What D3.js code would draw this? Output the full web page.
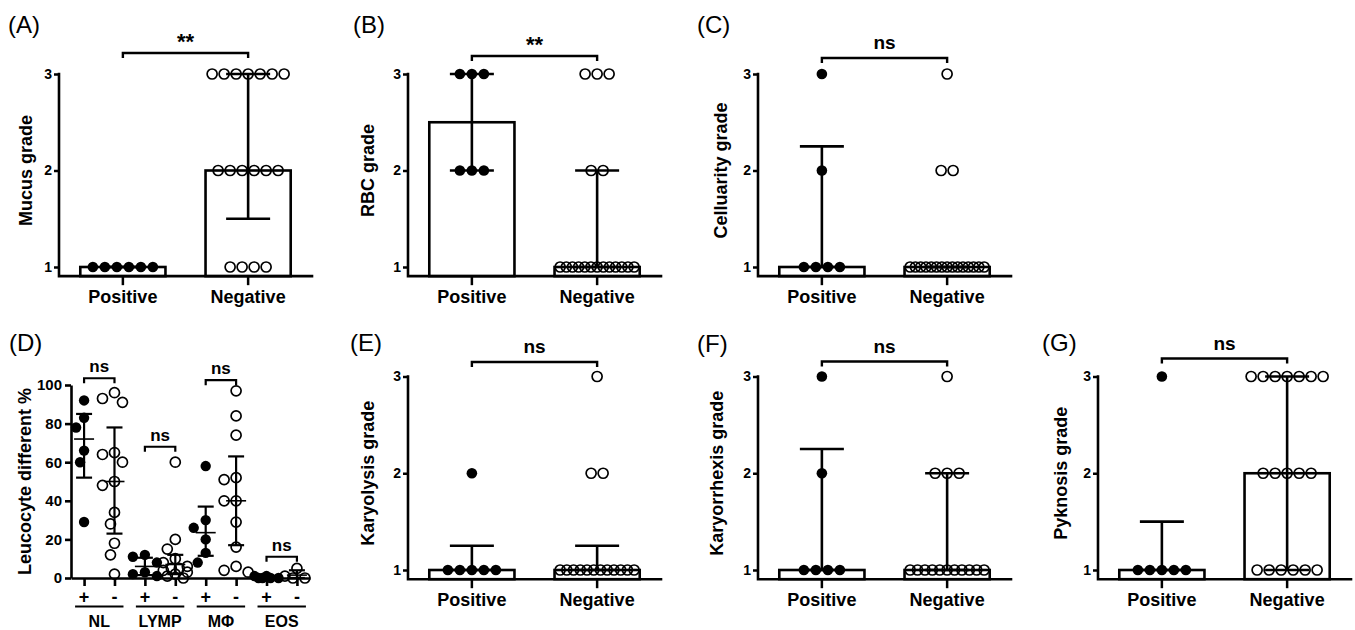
<!DOCTYPE html>
<html>
<head>
<meta charset="utf-8">
<script src="https://cdn.jsdelivr.net/npm/d3@7"></script>
<style>
body { margin: 0; background: #fff; }
text { font-family: "Liberation Sans", Arial, sans-serif; }
</style>
</head>
<body>
<script>
// grade scores per sample
var groups = ['Positive', 'Negative'];
var gradeTicks = [1, 2, 3];

var mucusPos = [1, 1, 1, 1, 1, 1];
var mucusNeg = [3, 3, 3, 3, 3, 3, 3, 2, 2, 2, 2, 2, 2, 1, 1, 1, 1];
var mucusMedian = [1, 2], mucusLow = [1, 1.5], mucusHigh = [1, 3];

var rbcPos = [3, 3, 3, 2, 2, 2];
var rbcNeg = [3, 3, 3, 2, 2, 1, 1, 1, 1, 1, 1, 1, 1, 1, 1, 1, 1, 1];
var rbcMedian = [2.5, 1], rbcLow = [2, 1], rbcHigh = [3, 2];

var cellPos = [3, 2, 1, 1, 1, 1];
var cellNeg = [3, 2, 2, 1, 1, 1, 1, 1, 1, 1, 1, 1, 1, 1, 1, 1, 1, 1];
var cellMedian = [1, 1], cellLow = [1, 1], cellHigh = [2.25, 1];

var lysisPos = [2, 1, 1, 1, 1, 1];
var lysisNeg = [3, 2, 2, 1, 1, 1, 1, 1, 1, 1, 1, 1, 1, 1, 1];
var lysisMedian = [1, 1], lysisLow = [1, 1], lysisHigh = [1.25, 1.25];

var rhexisPos = [3, 2, 1, 1, 1, 1];
var rhexisNeg = [3, 2, 2, 2, 1, 1, 1, 1, 1, 1, 1, 1, 1, 1, 1];
var rhexisMedian = [1, 1], rhexisLow = [1, 1], rhexisHigh = [2.25, 2];

var pyknoPos = [3, 1, 1, 1, 1, 1];
var pyknoNeg = [3, 3, 3, 3, 3, 3, 3, 2, 2, 2, 2, 2, 1, 1, 1, 1, 1, 1];
var pyknoMedian = [1, 2], pyknoLow = [1, 1], pyknoHigh = [1.5, 3];

// panel D: leucocyte differential %
var cellTypes = ['NL', 'LYMP', 'MΦ', 'EOS'];
var nlPos = [92, 83, 78, 66, 60, 29];
var nlNeg = [96, 93, 91, 65, 64, 60, 50, 48, 34, 28, 18, 12, 2];
var lympPos = [12, 11, 8, 3, 2, 1];
var lympNeg = [60, 20, 15, 10, 8, 6, 5, 5, 4, 3, 2, 1, 0];
var mphPos = [58, 30, 26, 20, 13, 8];
var mphNeg = [97, 84, 74, 52, 51, 40, 40, 29, 16, 6, 4, 3];
var eosPos = [1, 1, 0, 0, 0, 0];
var eosNeg = [5, 1, 0, 0];
var diffMean = [72, 50, 6, 7, 23.5, 40, 0.5, 1.5];
var diffLow = [52, 23, 1.5, 2, 11.5, 17, 0, 0];
var diffHigh = [85, 78, 10.5, 12, 37, 63, 1, 4];
var diffTicks = [0, 20, 40, 60, 80, 100];
var diffBracket = [103.5, 68, 102.5, 11];

var svg = d3.select("body").append("svg").attr("width", 1355).attr("height", 630);

var panels = [
  { label: '(A)', lx: 8, ly: 33, title: 'Mucus grade', x0: 59, row: 0, tOff: 27, sig: '**', bOff: 21,
    pos: mucusPos, neg: mucusNeg, med: mucusMedian, lo: mucusLow, hi: mucusHigh },
  { label: '(B)', lx: 353, ly: 33, title: 'RBC grade', x0: 408, row: 0, tOff: 34, sig: '**', bOff: 18,
    pos: rbcPos, neg: rbcNeg, med: rbcMedian, lo: rbcLow, hi: rbcHigh },
  { label: '(C)', lx: 697, ly: 33, title: 'Celluarity grade', x0: 758, row: 0, tOff: 31, sig: 'ns', bOff: 16,
    pos: cellPos, neg: cellNeg, med: cellMedian, lo: cellLow, hi: cellHigh },
  { label: '(E)', lx: 350, ly: 351, title: 'Karyolysis grade', x0: 408, row: 1, tOff: 34, sig: 'ns', bOff: 14.5,
    pos: lysisPos, neg: lysisNeg, med: lysisMedian, lo: lysisLow, hi: lysisHigh },
  { label: '(F)', lx: 697, ly: 352, title: 'Karyorrhexis grade', x0: 758, row: 1, tOff: 35, sig: 'ns', bOff: 15,
    pos: rhexisPos, neg: rhexisNeg, med: rhexisMedian, lo: rhexisLow, hi: rhexisHigh },
  { label: '(G)', lx: 1042, ly: 351, title: 'Pyknosis grade', x0: 1098, row: 1, tOff: 31, sig: 'ns', bOff: 18,
    pos: pyknoPos, neg: pyknoNeg, med: pyknoMedian, lo: pyknoLow, hi: pyknoHigh }
];

// spread equal grades into a centred row
function rowOffsets(values) {
  var counts = d3.rollup(values, function(v){ return v.length; }, function(d){ return d; });
  var seen = new Map();
  return values.map(function(v){
    var n = counts.get(v), k = seen.get(v) || 0;
    seen.set(v, k + 1);
    var step = n > 1 ? Math.min(12, 74 / (n - 1)) : 0;
    return (k - (n - 1) / 2) * step;
  });
}

function gradePanel(p) {
  var top = p.row === 0 ? 74 : 376.5, one = p.row === 0 ? 267 : 570;
  var y = d3.scaleLinear().domain([1, 3]).range([one, top]);
  var bottom = y(0.905);
  var x = d3.scaleBand().domain(groups).range([p.x0, p.x0 + 253]).paddingInner(0.32).paddingOuter(0.17);
  var g = svg.append("g");
  var cx = function(d){ return x(d) + x.bandwidth() / 2; };

  g.append("text").attr("x", p.lx).attr("y", p.ly).attr("font-size", 24).text(p.label);

  g.selectAll("rect.bar").data(groups).enter().append("rect")
    .attr("class", "bar")
    .attr("x", function(d){ return x(d); })
    .attr("width", x.bandwidth())
    .attr("y", function(d, i){ return y(p.med[i]); })
    .attr("height", function(d, i){ return bottom - y(p.med[i]); })
    .attr("fill", "#fff").attr("stroke", "#000").attr("stroke-width", 2.6);

  // axes
  var ya = g.append("g").attr("transform", "translate(" + p.x0 + ",0)")
    .call(d3.axisLeft(y).tickValues(gradeTicks).tickFormat(d3.format("d")).tickSize(5).tickPadding(2));
  ya.select(".domain").remove();
  ya.selectAll("line").attr("stroke-width", 2.5);
  ya.selectAll("text").attr("font-size", 14).attr("font-weight", "bold").attr("font-family", "Liberation Sans, Arial, sans-serif");

  var xa = g.append("g").attr("transform", "translate(0," + bottom + ")")
    .call(d3.axisBottom(x).tickSize(9).tickPadding(5));
  xa.select(".domain").remove();
  xa.selectAll("line").attr("stroke-width", 2.5);
  xa.selectAll("text").attr("font-size", 18).attr("font-weight", "bold").attr("font-family", "Liberation Sans, Arial, sans-serif");

  g.append("path")
    .attr("d", "M" + p.x0 + "," + y(3) + "V" + bottom + "H" + (p.x0 + 253))
    .attr("fill", "none").attr("stroke", "#000").attr("stroke-width", 2.6).attr("stroke-linecap", "square");

  g.append("text")
    .attr("transform", "translate(" + (p.x0 - p.tOff) + "," + y(2) + ") rotate(-90)")
    .attr("text-anchor", "middle").attr("font-size", 18).attr("font-weight", "bold")
    .text(p.title);

  // median with interquartile range
  groups.forEach(function(gr, i){
    var c = cx(gr);
    g.append("line").attr("x1", c).attr("x2", c).attr("y1", y(p.lo[i])).attr("y2", y(p.hi[i]))
      .attr("stroke", "#000").attr("stroke-width", 2.6);
    [p.lo[i], p.hi[i]].forEach(function(v){
      g.append("line").attr("x1", c - 22).attr("x2", c + 22).attr("y1", y(v)).attr("y2", y(v))
        .attr("stroke", "#000").attr("stroke-width", 2.6);
    });
  });

  // dots
  var posOff = rowOffsets(p.pos), negOff = rowOffsets(p.neg);
  g.selectAll("circle.pos").data(p.pos).enter().append("circle")
    .attr("class", "pos")
    .attr("cx", function(d, i){ return cx('Positive') + posOff[i]; })
    .attr("cy", function(d){ return y(d); })
    .attr("r", 5.3).attr("fill", "#000");
  g.selectAll("circle.neg").data(p.neg).enter().append("circle")
    .attr("class", "neg")
    .attr("cx", function(d, i){ return cx('Negative') + negOff[i]; })
    .attr("cy", function(d){ return y(d); })
    .attr("r", 5).attr("fill", "none").attr("stroke", "#000").attr("stroke-width", 1.7);

  // significance bracket
  var by = y(3) - p.bOff;
  g.append("path")
    .attr("d", "M" + cx('Positive') + "," + (by + 5) + "V" + by + "H" + cx('Negative') + "V" + (by + 5))
    .attr("fill", "none").attr("stroke", "#000").attr("stroke-width", 2.4);
  g.append("text").attr("x", (cx('Positive') + cx('Negative')) / 2)
    .attr("y", p.sig === '**' ? by - 4 : by - 9)
    .attr("text-anchor", "middle").attr("font-weight", "bold")
    .attr("font-size", p.sig === '**' ? 22 : 19)
    .text(p.sig);
}

panels.forEach(gradePanel);

// ---- panel D ----
function swarm(values, yS, minDist, step, maxOff) {
  var placed = [], off = new Array(values.length);
  var order = values.map(function(v, i){ return i; }).sort(function(a, b){ return values[b] - values[a]; });
  order.forEach(function(i){
    var py = yS(values[i]), best = 0, bestD = -1;
    for (var k = 0; ; k++) {
      var o = k === 0 ? 0 : (k % 2 ? -1 : 1) * Math.ceil(k / 2) * step;
      if (Math.abs(o) > maxOff) break;
      var dmin = d3.min(placed, function(q){ return Math.hypot(q[0] - o, q[1] - py); });
      if (dmin === undefined) dmin = Infinity;
      if (dmin >= minDist) { best = o; bestD = dmin; break; }
      if (dmin > bestD) { bestD = dmin; best = o; }
    }
    off[i] = best;
    placed.push([best, py]);
  });
  return off;
}

(function(){
  var series = [nlPos, nlNeg, lympPos, lympNeg, mphPos, mphNeg, eosPos, eosNeg];
  var keys = [];
  cellTypes.forEach(function(c){ keys.push(c + '+'); keys.push(c + '-'); });
  var x = d3.scalePoint().domain(keys).range([71, 310]).padding(0.43);
  var y = d3.scaleLinear().domain([0, 100]).range([578, 385]);
  var g = svg.append("g");

  g.append("text").attr("x", 9).attr("y", 351).attr("font-size", 24).text("(D)");

  var ya = g.append("g").attr("transform", "translate(71,0)")
    .call(d3.axisLeft(y).tickValues(diffTicks).tickSize(6).tickSizeOuter(0).tickPadding(3));
  ya.selectAll("path,line").attr("stroke-width", 2.6);
  ya.selectAll("text").attr("font-size", 15).attr("font-weight", "bold").attr("font-family", "Liberation Sans, Arial, sans-serif");

  var xa = g.append("g").attr("transform", "translate(0,578)")
    .call(d3.axisBottom(x).tickSize(8).tickSizeOuter(0).tickFormat(""));
  xa.selectAll("path,line").attr("stroke-width", 2.6);

  g.append("text").attr("transform", "translate(31," + y(50) + ") rotate(-90)")
    .attr("text-anchor", "middle").attr("font-size", 18).attr("font-weight", "bold")
    .text("Leucocyte different %");

  // +/- marks, underline and cell type label
  keys.forEach(function(k){
    g.append("text").attr("x", x(k)).attr("y", 603).attr("text-anchor", "middle")
      .attr("font-size", 18).attr("font-weight", "bold").text(k.slice(-1));
  });
  cellTypes.forEach(function(c, i){
    var a = x(c + '+'), b = x(c + '-');
    g.append("line").attr("x1", a - 9).attr("x2", b + 9).attr("y1", 606.5).attr("y2", 606.5)
      .attr("stroke", "#000").attr("stroke-width", 2);
    g.append("text").attr("x", (a + b) / 2).attr("y", 627).attr("text-anchor", "middle")
      .attr("font-size", 16).attr("font-weight", "bold").text(c);
    var by = y(diffBracket[i]);
    g.append("path").attr("d", "M" + a + "," + (by + 5) + "V" + by + "H" + b + "V" + (by + 5))
      .attr("fill", "none").attr("stroke", "#000").attr("stroke-width", 2.2);
    g.append("text").attr("x", (a + b) / 2).attr("y", by - 6).attr("text-anchor", "middle")
      .attr("font-size", 17).attr("font-weight", "bold").text("ns");
  });

  // dots
  series.forEach(function(vals, si){
    var k = keys[si], filled = si % 2 === 0;
    var off = swarm(vals, y, 12, 4, 12);
    g.selectAll("circle.s" + si).data(vals).enter().append("circle")
      .attr("class", "s" + si)
      .attr("cx", function(d, i){ return x(k) + off[i]; })
      .attr("cy", function(d){ return y(d); })
      .attr("r", filled ? 5.2 : 5)
      .attr("fill", filled ? "#000" : "none")
      .attr("stroke", filled ? "none" : "#000").attr("stroke-width", 1.7);
  });

  // mean +/- SD
  keys.forEach(function(k, i){
    var c = x(k);
    g.append("line").attr("x1", c).attr("x2", c).attr("y1", y(diffLow[i])).attr("y2", y(diffHigh[i]))
      .attr("stroke", "#000").attr("stroke-width", 2.2);
    [diffLow[i], diffHigh[i]].forEach(function(v){
      g.append("line").attr("x1", c - 8).attr("x2", c + 8).attr("y1", y(v)).attr("y2", y(v))
        .attr("stroke", "#000").attr("stroke-width", 2.2);
    });
    g.append("line").attr("x1", c - 10).attr("x2", c + 10).attr("y1", y(diffMean[i])).attr("y2", y(diffMean[i]))
      .attr("stroke", "#000").attr("stroke-width", 1.6);
  });
})();
</script>
</body>
</html>
